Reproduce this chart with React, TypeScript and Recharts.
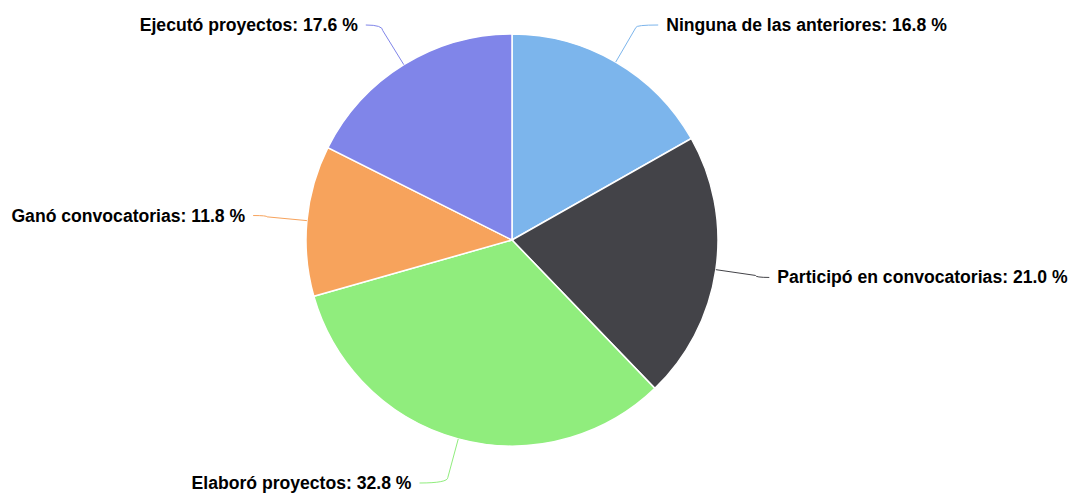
import React from "react";
import { PieChart, Pie, Cell } from "recharts";

const categories = [
  "Ninguna de las anteriores",
  "Participó en convocatorias",
  "Elaboró proyectos",
  "Ganó convocatorias",
  "Ejecutó proyectos",
];
const values = [16.8, 21.0, 32.8, 11.8, 17.6];
const colors = ["#7cb5ec", "#434348", "#90ed7d", "#f7a35c", "#8085e9"];

const data = categories.map((name, i) => ({ name, value: values[i] }));

const RAD = Math.PI / 180;
const W = 1072;
const H = 495;

const renderLabel = (props: any) => {
  const { cx, cy, midAngle, outerRadius, index, name, value } = props;
  const r = outerRadius;
  const R = r + 54;
  const cos = Math.cos(-midAngle * RAD);
  const sin = Math.sin(-midAngle * RAD);
  const right = cos >= 0;
  const ex = cx + r * cos;
  const ey = cy + r * sin;
  let ly = cy + R * sin;
  ly = Math.max(25, Math.min(H - 12, ly));
  const dy = ly - cy;
  const dx = Math.sqrt(Math.max(R * R - dy * dy, 0));
  const ax = cx + (right ? dx : -dx);
  const ay = ly;
  const horiz = Math.abs(ax - ex);
  const d = Math.min(40, Math.abs(cos) > 0.01 ? (horiz * 0.8) / Math.abs(cos) : 40);
  const bx = ex + d * cos;
  const by = ey + d * sin;
  const path = `M${ax},${ay} Q${bx},${ay} ${bx},${by} L${ex},${ey}`;
  const tx = ax + (right ? 8 : -8);
  return (
    <g key={`lbl-${index}`}>
      <path d={path} stroke={colors[index]} strokeWidth={1} fill="none" />
      <text
        x={tx}
        y={ay}
        textAnchor={right ? "start" : "end"}
        dominantBaseline="central"
        fill="#000000"
        stroke="#ffffff"
        strokeWidth={2}
        paintOrder="stroke"
        fontFamily="'Liberation Sans', Arial, sans-serif"
        fontWeight="bold"
        fontSize={17.6}
      >
        {`${name}: ${value.toFixed(1)} %`}
      </text>
    </g>
  );
};

export default function App() {
  return (
    <div style={{ position: "absolute", left: 0, top: 0, width: W, height: H, background: "#ffffff" }}>
      <PieChart width={W} height={H} margin={{ top: 0, right: 0, bottom: 0, left: 0 }}>
        <Pie
          data={data}
          dataKey="value"
          nameKey="name"
          cx={512}
          cy={240}
          outerRadius={206}
          startAngle={90}
          endAngle={-270}
          stroke="#ffffff"
          strokeWidth={1.5}
          label={renderLabel}
          labelLine={false}
          isAnimationActive={false}
        >
          {data.map((d, i) => (
            <Cell key={d.name} fill={colors[i]} />
          ))}
        </Pie>
      </PieChart>
    </div>
  );
}
